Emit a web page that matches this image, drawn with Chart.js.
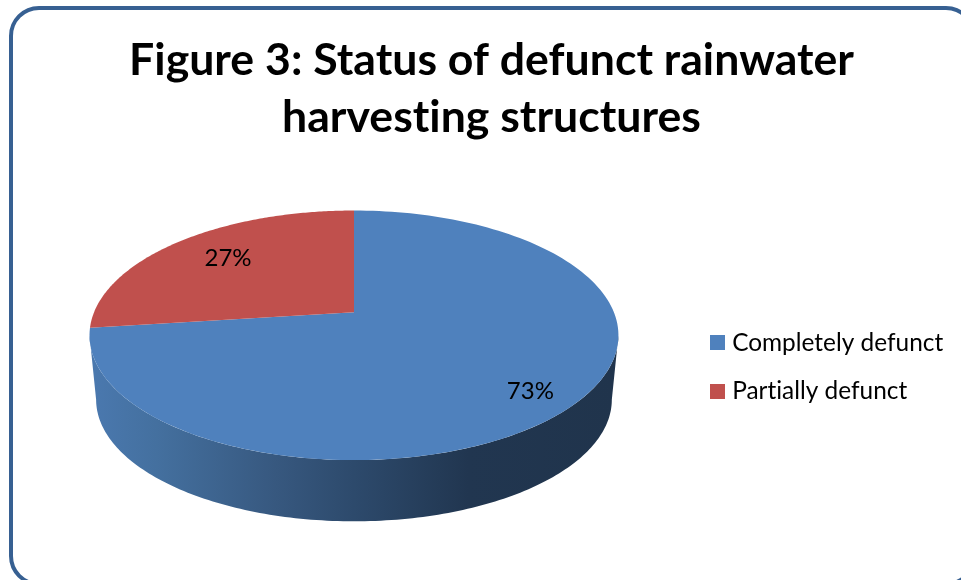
<!DOCTYPE html>
<html>
<head>
<meta charset="utf-8">
<script src="https://cdn.jsdelivr.net/npm/chart.js@4"></script>
<style>
  html, body { margin: 0; padding: 0; width: 961px; height: 580px; overflow: hidden; background: #fff; }
  #frame { position: absolute; left: 9px; top: 6px; width: 959px; height: 572px; border: 4px solid #376092; border-radius: 30px; }
  #wrap { position: absolute; left: 0; top: 0; width: 983px; height: 600px; }
</style>
</head>
<body>
<div id="frame"></div>
<div id="wrap"><canvas id="pieChart" width="983" height="600"></canvas></div>
<script>
const categories = ["Completely defunct", "Partially defunct"];
const values = [73, 27];
const sliceColors = ["#4F81BD", "#C0504D"];
const titleLines = ["Figure 3: Status of defunct rainwater", "harvesting structures"];
const labelRadius = [0.84, 0.725];
const labelNudge = [[-6, 4], [4, -1]];

const fontName = "Lato, 'Open Sans', sans-serif";

// perspective of the tilted disc, all relative to the pie radius
const perspective = -0.184;
const widthRatio = 1.714;
const heightRatio = 0.795;
const wallDrop = 0.428;
const lowerRim = 0.975;

function project(arc, angle, radius, scale, drop) {
  const u = Math.cos(angle) * radius;
  const v = Math.sin(angle) * radius;
  const w = 1 + perspective * v;
  const r = arc.outerRadius;
  return {
    x: arc.x + (r * widthRatio * scale * u) / w,
    y: arc.y + r * drop + (r * heightRatio * scale * v) / w,
  };
}

function traceRim(ctx, arc, from, to, scale, drop, first) {
  const steps = 160;
  for (let i = 0; i <= steps; i++) {
    const a = from + ((to - from) * i) / steps;
    const p = project(arc, a, 1, scale, drop);
    if (i === 0 && first) ctx.moveTo(p.x, p.y);
    else ctx.lineTo(p.x, p.y);
  }
}

// legend swatch sits closer to its text than the library's gap allows
function swatch(color) {
  const c = document.createElement("canvas");
  c.width = 30;
  c.height = 15;
  const g = c.getContext("2d");
  g.fillStyle = color;
  g.fillRect(10, 0, 15, 15);
  return c;
}

const tiltedPie = {
  id: "tiltedPie",
  beforeDraw(chart) {
    // a non zero spacing keeps Lato from joining "ti" into a ligature
    chart.ctx.letterSpacing = "0.01px";
  },
  afterLayout(chart) {
    // legend sits level with the wall of the pie, not at the top of the chart area
    chart.legend.top += 135;
    chart.legend.bottom += 135;
    chart.titleBlock.left += 4;
    chart.titleBlock.right += 4;
  },
  beforeDatasetsDraw(chart) {
    const ctx = chart.ctx;
    const arcs = chart.getDatasetMeta(0).data;
    const first = arcs[0];
    const side = Math.asin(-perspective);
    const r = first.outerRadius;

    const wall = ctx.createLinearGradient(first.x - r * widthRatio, 0, first.x + r * widthRatio, 0);
    wall.addColorStop(0, "#4A78AE");
    wall.addColorStop(0.12, "#44709F");
    wall.addColorStop(0.35, "#37587F");
    wall.addColorStop(0.5, "#2D4A6C");
    wall.addColorStop(0.72, "#213650");
    wall.addColorStop(1, "#20344C");

    ctx.save();
    ctx.beginPath();
    traceRim(ctx, first, side, Math.PI - side, 1, 0, true);
    traceRim(ctx, first, Math.PI - side, side, lowerRim, wallDrop, false);
    ctx.closePath();
    ctx.fillStyle = wall;
    ctx.fill();

    arcs.forEach((arc, i) => {
      const centre = project(arc, 0, 0, 1, 0);
      ctx.beginPath();
      ctx.moveTo(centre.x, centre.y);
      traceRim(ctx, arc, arc.startAngle, arc.endAngle, 1, 0, false);
      ctx.closePath();
      ctx.fillStyle = sliceColors[i];
      ctx.fill();
    });

    const total = values.reduce((a, b) => a + b, 0);
    ctx.fillStyle = "#000";
    ctx.font = "24px " + fontName;
    ctx.textAlign = "center";
    ctx.textBaseline = "middle";
    arcs.forEach((arc, i) => {
      const p = project(arc, (arc.startAngle + arc.endAngle) / 2, labelRadius[i], 1, 0);
      ctx.fillText(Math.round((values[i] / total) * 100) + "%", p.x + labelNudge[i][0], p.y + labelNudge[i][1]);
    });
    ctx.restore();
    return false;
  },
};

new Chart(document.getElementById("pieChart"), {
  type: "pie",
  data: {
    labels: categories,
    datasets: [{ data: values, backgroundColor: sliceColors, borderWidth: 0 }],
  },
  options: {
    responsive: false,
    animation: false,
    layout: { padding: { left: 22, right: 30, top: 0, bottom: 136 } },
    plugins: {
      title: {
        display: true,
        text: titleLines,
        color: "#000",
        font: { family: fontName, size: 44.6, weight: "bold", lineHeight: 1.28 },
        padding: { top: 32, bottom: 14.5 },
      },
      legend: {
        position: "right",
        labels: {
          color: "#000",
          boxWidth: 10,
          boxHeight: 15,
          padding: 24,
          usePointStyle: true,
          font: { family: fontName, size: 24.4 },
          generateLabels(chart) {
            return Chart.overrides.pie.plugins.legend.labels.generateLabels(chart).map((item, i) => {
              item.pointStyle = swatch(sliceColors[i]);
              return item;
            });
          },
        },
      },
      tooltip: { enabled: false },
    },
  },
  plugins: [tiltedPie],
});
</script>
</body>
</html>
